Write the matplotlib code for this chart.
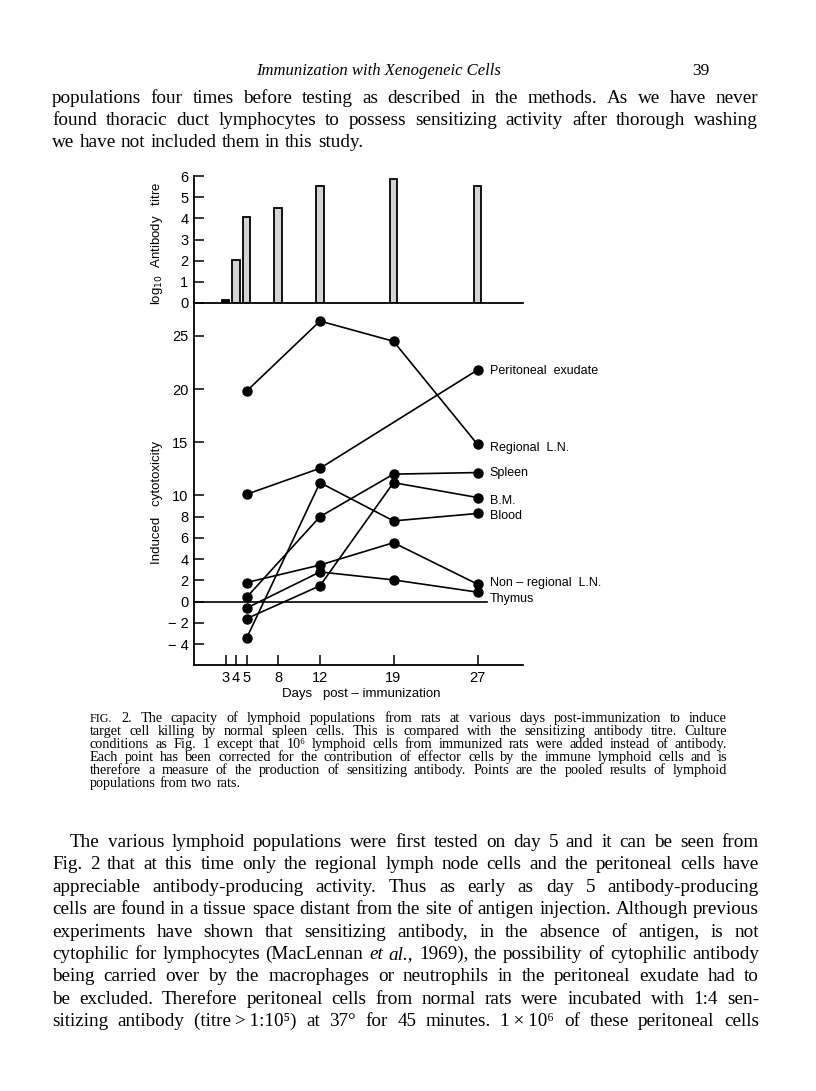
import numpy as np
import matplotlib
matplotlib.use('Agg')
from matplotlib import pyplot as plt
from matplotlib.transforms import IdentityTransform

W, H = 816, 1091

# antibody titre bars (log10)
bar_days = [3, 4, 5, 8, 12, 19, 27]
titre = [0.13, 2.05, 4.05, 4.5, 5.55, 5.85, 5.55]
bar_colors = ['black', '#d4d4d4', '#d4d4d4', '#d4d4d4', '#d4d4d4', '#d4d4d4', '#d4d4d4']

# induced cytotoxicity
days = [5, 12, 19, 27]
regional = [19.8, 26.4, 24.5, 14.8]
peritoneal = [10.1, 12.55, np.nan, 21.8]
spleen = [0.4, 8.0, 12.0, 12.15]
bm = [-1.6, 1.5, 11.2, 9.8]
blood = [-3.45, 11.2, 7.6, 8.3]
nonregional = [1.8, 3.45, 5.55, 1.65]
thymus = [-0.6, 2.8, 2.05, 0.9]

series = [peritoneal, regional, spleen, bm, blood, nonregional, thymus]
names = ['Peritoneal  exudate', 'Regional  L.N.', 'Spleen', 'B.M.', 'Blood',
         'Non \u2013 regional  L.N.', 'Thymus']
name_dy = [-1, -4, 0, -3, -3, 1, -7]   # label nudge in pixels

xticks = [3, 4, 5, 8, 12, 19, 27]
top_yticks = [0, 1, 2, 3, 4, 5, 6]
low_yticks = [-4, -2, 0, 2, 4, 6, 8, 10, 15, 20, 25]
low_ylabels = ['\u2212 4', '\u2212 2', '0', '2', '4', '6', '8', '10', '15', '20', '25']

header = 'Immunization with Xenogeneic Cells'
page_no = '39'
para1 = ["populations four times before testing as described in the methods. As we have never",
         "found thoracic duct lymphocytes to possess sensitizing activity after thorough washing",
         "we have not included them in this study."]
caption = ["^FIG. 2. The capacity of lymphoid populations from rats at various days post-immunization to induce",
           "target cell killing by normal spleen cells. This is compared with the sensitizing antibody titre. Culture",
           "conditions as Fig. 1 except that 10\u2076 lymphoid cells from immunized rats were added instead of antibody.",
           "Each point has been corrected for the contribution of effector cells by the immune lymphoid cells and is",
           "therefore a measure of the production of sensitizing antibody. Points are the pooled results of lymphoid",
           "populations from two rats."]
para2 = ["The various lymphoid populations were first tested on day 5 and it can be seen from",
         "Fig. 2 that at this time only the regional lymph node cells and the peritoneal cells have",
         "appreciable antibody-producing activity. Thus as early as day 5 antibody-producing",
         "cells are found in a tissue space distant from the site of antigen injection. Although previous",
         "experiments have shown that sensitizing antibody, in the absence of antigen, is not",
         "cytophilic for lymphocytes (MacLennan *et *al., 1969), the possibility of cytophilic antibody",
         "being carried over by the macrophages or neutrophils in the peritoneal exudate had to",
         "be excluded. Therefore peritoneal cells from normal rats were incubated with 1:4 sen-",
         "sitizing antibody (titre\u2009>\u20091:10\u2075) at 37\u00b0 for 45 minutes. 1\u2009\u00d7\u200910\u2076 of these peritoneal cells"]

fig = plt.figure(figsize=(W / 100, H / 100), dpi=100)
fig.patch.set_facecolor('white')
renderer = fig.canvas.get_renderer()
serif = ['Liberation Serif', 'DejaVu Serif']
sans = ['Liberation Sans', 'DejaVu Sans']


def put_line(line, x0, x1, ybase, size, justify=True):
    items = []
    for w in line.split(' '):
        style, k = 'normal', 1.0
        if w.startswith('*'):
            w, style = w[1:], 'italic'
        if w.startswith('^'):
            w, k = w[1:], 0.85
        t = fig.text(0, 0, w, fontsize=size * k, family=serif, style=style,
                     transform=IdentityTransform(), ha='left', va='baseline')
        items.append(t)
    widths = [t.get_window_extent(renderer).width for t in items]
    if justify and len(items) > 1:
        gap = (x1 - x0 - sum(widths)) / (len(items) - 1)
    else:
        gap = size * 0.27 * 100 / 72
    x = x0
    for t, w in zip(items, widths):
        t.set_position((x, H - ybase))
        x += w + gap


# page text
fig.text(379, H - 75, header, fontsize=12, family=serif, style='italic',
         transform=IdentityTransform(), ha='center', va='baseline')
fig.text(709, H - 75, page_no, fontsize=12.5, family=serif,
         transform=IdentityTransform(), ha='right', va='baseline')
for i, line in enumerate(para1):
    put_line(line, 52, 758, 103 + 22 * i, 13.8, justify=i < len(para1) - 1)
for i, line in enumerate(caption):
    put_line(line, 90, 727, 722 + 13 * i, 10.3, justify=i < len(caption) - 1)
for i, line in enumerate(para2):
    x0 = 70 if i == 0 else 52
    put_line(line, x0, 759, 847 + 22.4 * i, 13.8, justify=True)

# axes geometry in pixels
xl, xr = 194, 523
y_top, y_mid, y_bot = 176, 303, 665
xmax = (xr - xl) / 10.5

ax1 = fig.add_axes([xl / W, (H - y_mid) / H, (xr - xl) / W, (y_mid - y_top) / H])
ax2 = fig.add_axes([xl / W, (H - y_bot) / H, (xr - xl) / W, (y_bot - y_mid) / H])

ax1.bar(bar_days, titre, width=0.75, color=bar_colors, edgecolor='black', linewidth=1.3)
ax1.set_xlim(0, xmax)
ax1.set_ylim(0, 6)
ax1.set_xticks([])
ax1.set_yticks(top_yticks)
ax1.set_yticklabels([str(v) for v in top_yticks], family=sans, fontsize=10.5)

ax2.axhline(0, xmin=0, xmax=27.95 / xmax, color='black', linewidth=1.2)
for vals, name, dy in zip(series, names, name_dy):
    v = np.array(vals)
    ok = ~np.isnan(v)
    d = np.array(days)[ok]
    ax2.plot(d, v[ok], color='black', linewidth=1.2, marker='o', markersize=6.5)
    ax2.annotate(name, (d[-1], v[ok][-1]), xytext=(12, dy), textcoords='offset pixels',
                 va='center', ha='left', fontsize=9, family=sans)
ax2.set_xlim(0, xmax)
ax2.set_ylim(-(y_bot - 601.7) / 10.63, (601.7 - y_mid) / 10.63)
ax2.set_xticks(xticks)
ax2.set_xticklabels([str(v) for v in xticks], family=sans, fontsize=10.5)
ax2.set_yticks(low_yticks)
ax2.set_yticklabels(low_ylabels, family=sans, fontsize=10.5)

for ax in (ax1, ax2):
    ax.set_facecolor('none')
    ax.spines['top'].set_visible(False)
    ax.spines['right'].set_visible(False)
    ax.spines['left'].set_linewidth(1.3)
    ax.spines['bottom'].set_linewidth(1.3)
    ax.tick_params(direction='in', length=7, width=1.1, pad=4)

fig.text(157, H - 243, 'log$_{10}$  Antibody   titre', rotation=90, fontsize=9.5, family=sans,
         transform=IdentityTransform(), ha='center', va='center')
fig.text(157, H - 503, 'Induced   cytotoxicity', rotation=90, fontsize=9.5, family=sans,
         transform=IdentityTransform(), ha='center', va='center')
fig.text(361, H - 694, 'Days   post \u2013 immunization', fontsize=9.5, family=sans,
         transform=IdentityTransform(), ha='center', va='center')

fig.savefig('out.png', dpi=100)
